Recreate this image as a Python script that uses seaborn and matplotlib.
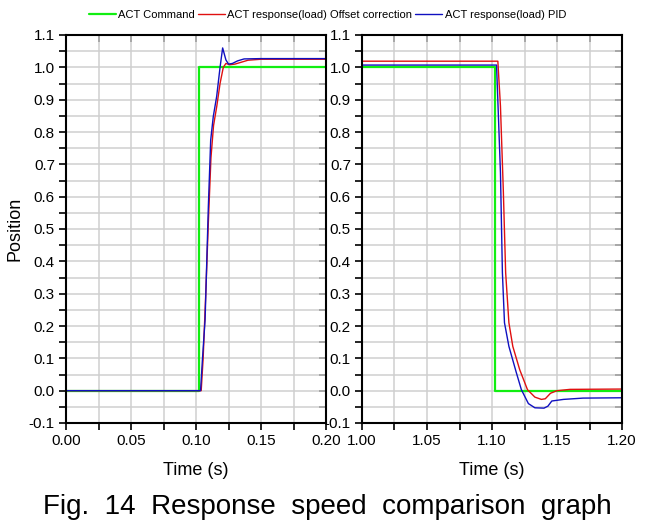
import pandas as pd
import matplotlib.pyplot as plt
import matplotlib.ticker as mticker
import seaborn as sns
import numpy as np

# --- data ---
# left panel: step up at t ~ 0.1 s
cmd_up_t = [0.0, 0.102, 0.102, 0.2]
cmd_up_v = [0.0, 0.0, 1.0, 1.0]
ofs_up_t = [0.0, 0.104, 0.1055, 0.1075, 0.1095, 0.1115, 0.1135, 0.116, 0.1185, 0.121, 0.123, 0.126, 0.13, 0.135, 0.14, 0.15, 0.2]
ofs_up_v = [0.0, 0.0, 0.1, 0.3, 0.52, 0.72, 0.82, 0.88, 0.95, 1.0, 1.012, 1.008, 1.01, 1.016, 1.022, 1.025, 1.025]
pid_up_t = [0.0, 0.1035, 0.105, 0.107, 0.1095, 0.1113, 0.1133, 0.1159, 0.1185, 0.1205, 0.123, 0.125, 0.128, 0.132, 0.137, 0.15, 0.2]
pid_up_v = [0.0, 0.0, 0.1, 0.22, 0.57, 0.775, 0.848, 0.91, 1.0, 1.06, 1.023, 1.01, 1.012, 1.02, 1.026, 1.027, 1.027]

# right panel: step down at t ~ 1.1 s
cmd_dn_t = [1.0, 1.102, 1.102, 1.2]
cmd_dn_v = [1.0, 1.0, 0.0, 0.0]
ofs_dn_t = [1.0, 1.1045, 1.1065, 1.1087, 1.1105, 1.113, 1.116, 1.1213, 1.1273, 1.133, 1.138, 1.141, 1.145, 1.15, 1.16, 1.2]
ofs_dn_v = [1.019, 1.019, 0.88, 0.62, 0.365, 0.21, 0.137, 0.065, 0.003, -0.02, -0.027, -0.025, -0.008, 0.0, 0.004, 0.005]
pid_dn_t = [1.0, 1.1035, 1.1065, 1.108, 1.1096, 1.113, 1.1187, 1.1226, 1.128, 1.133, 1.14, 1.143, 1.146, 1.155, 1.17, 1.2]
pid_dn_v = [1.007, 1.007, 0.675, 0.365, 0.21, 0.137, 0.056, 0.003, -0.04, -0.053, -0.054, -0.048, -0.032, -0.027, -0.023, -0.022]

series_names = ["ACT Command", "ACT response(load) Offset correction", "ACT response(load) PID"]
colors = {series_names[0]: "#11ee11", series_names[1]: "#e01010", series_names[2]: "#1010c0"}
widths = {series_names[0]: 1.6, series_names[1]: 1.0, series_names[2]: 1.0}


def make_df(parts):
    frames = []
    for name, t, v in parts:
        frames.append(pd.DataFrame({"time": t, "position": v, "series": name}))
    return pd.concat(frames, ignore_index=True)


df_up = make_df([(series_names[0], cmd_up_t, cmd_up_v),
                 (series_names[1], ofs_up_t, ofs_up_v),
                 (series_names[2], pid_up_t, pid_up_v)])
df_dn = make_df([(series_names[0], cmd_dn_t, cmd_dn_v),
                 (series_names[1], ofs_dn_t, ofs_dn_v),
                 (series_names[2], pid_dn_t, pid_dn_v)])

sns.set_style("white")
plt.rcParams['font.family'] = ['Liberation Sans', 'DejaVu Sans']
plt.rcParams['text.color'] = 'black'
plt.rcParams['axes.labelcolor'] = 'black'
plt.rcParams['xtick.color'] = 'black'
plt.rcParams['ytick.color'] = 'black'

fig = plt.figure(figsize=(6.55, 5.31), dpi=100)
ax1 = fig.add_axes([66 / 655, 108 / 531, 260 / 655, 388 / 531])
ax2 = fig.add_axes([362 / 655, 108 / 531, 260 / 655, 388 / 531])

for ax, df, x0 in [(ax1, df_up, 0.0), (ax2, df_dn, 1.0)]:
    for name in series_names:
        sns.lineplot(data=df[df["series"] == name], x="time", y="position",
                     color=colors[name], linewidth=widths[name],
                     estimator=None, sort=False, ax=ax, label=name)
    ax.set_xlim(x0, x0 + 0.2)
    ax.set_ylim(-0.1, 1.1)
    ax.xaxis.set_major_locator(mticker.MultipleLocator(0.05))
    ax.xaxis.set_minor_locator(mticker.MultipleLocator(0.025))
    ax.yaxis.set_major_locator(mticker.MultipleLocator(0.1))
    ax.yaxis.set_minor_locator(mticker.MultipleLocator(0.05))
    ax.xaxis.set_major_formatter(mticker.FormatStrFormatter('%.2f'))
    ax.yaxis.set_major_formatter(mticker.FormatStrFormatter('%.1f'))
    ax.grid(True, which='both', color='#cfcfcf', linewidth=1.1)
    ax.set_axisbelow(True)
    for sp in ax.spines.values():
        sp.set_color('black')
        sp.set_linewidth(1.5)
    ax.tick_params(which='both', direction='out', length=5, width=1.2,
                   bottom=True, left=True, labelsize=11, pad=3)
    # inward ticks on the top and right edges
    top = ax.secondary_xaxis('top')
    top.xaxis.set_major_locator(mticker.MultipleLocator(0.025))
    top.tick_params(direction='in', length=5, width=1.2, labeltop=False)
    right = ax.secondary_yaxis('right')
    right.yaxis.set_major_locator(mticker.MultipleLocator(0.05))
    right.tick_params(direction='in', length=5, width=1.2, labelright=False)
    for s in (top, right):
        for sp in s.spines.values():
            sp.set_visible(False)
    ax.set_xlabel("Time (s)", fontsize=13, labelpad=10)
    ax.set_ylabel("")

ax1.set_ylabel("Position", fontsize=13, labelpad=4)

handles, labels = ax1.get_legend_handles_labels()
ax1.get_legend().remove()
ax2.get_legend().remove()
fig.legend(handles, labels, loc='center', bbox_to_anchor=(0.5, 1 - 15 / 531),
           ncol=3, frameon=False, fontsize=8, handlelength=2.4,
           handletextpad=0.25, columnspacing=0.25, borderaxespad=0)

fig.text(0.5, 1 - 507 / 531, "Fig.  14  Response  speed  comparison  graph",
         ha='center', va='center', fontsize=20)

fig.savefig("out.png", dpi=100)
